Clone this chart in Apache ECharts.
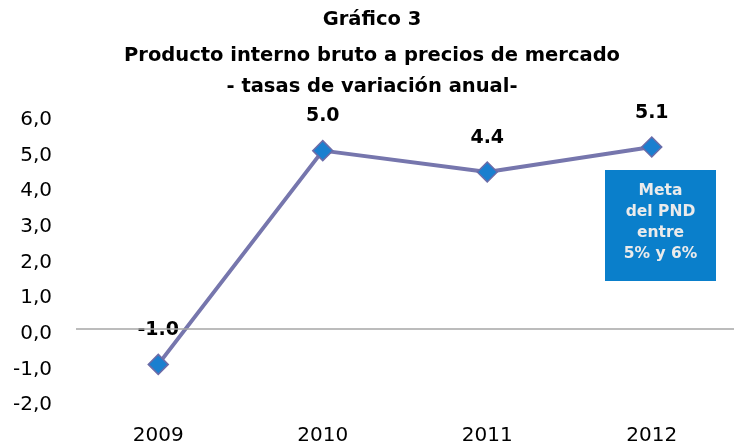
<!DOCTYPE html>
<html><head><meta charset="utf-8">
<script src="https://cdn.jsdelivr.net/npm/echarts@6/dist/echarts.min.js"></script>
<style>html,body{margin:0;padding:0;background:#fff}#c{width:734px;height:446px}</style>
</head><body><div id="c"></div>
<script>
const years = ['2009', '2010', '2011', '2012'];
const pibGrowth = [-1.0, 5.0, 4.4, 5.1];
const yTicks = [-2, -1, 0, 1, 2, 3, 4, 5, 6];
const titleLines = ['Gráfico 3', 'Producto interno bruto a precios de mercado', '- tasas de variación anual-'];
const boxLines = ['Meta', 'del PND', 'entre', '5% y 6%'];

const FONT = '"DejaVu Sans", sans-serif';
const titleY = [20, 56, 87];
const chart = echarts.init(document.getElementById('c'), null, {renderer: 'canvas'});
chart.setOption({
  animation: false,
  grid: {left: 76, right: -6, top: 115, bottom: 44, containLabel: false},
  xAxis: {
    type: 'category', data: years, boundaryGap: true,
    axisLine: {show: false}, axisTick: {show: false},
    axisLabel: {fontFamily: FONT, fontSize: 20, color: '#000', margin: 26}
  },
  yAxis: {
    type: 'value', min: yTicks[0], max: yTicks[yTicks.length - 1], interval: 1,
    axisLine: {show: false}, axisTick: {show: false}, splitLine: {show: false},
    axisLabel: {fontFamily: FONT, fontSize: 20, color: '#000', margin: 24,
      formatter: v => '{s|' + v.toFixed(1).replace('.', ',') + '}',
      rich: {s: {fontFamily: FONT, fontSize: 20, color: '#000', padding: [10, 0, 0, 0]}}}
  },
  series: [{
    type: 'line', data: pibGrowth,
    lineStyle: {color: '#7676ad', width: 4},
    symbol: 'diamond', symbolSize: 20,
    itemStyle: {color: '#1a7fcf', borderColor: '#6c6ca8', borderWidth: 1.5},
    label: {show: true, position: 'top', distance: 14, fontFamily: FONT, fontWeight: 'bold',
      fontSize: 19, color: '#000', formatter: p => p.value.toFixed(1)},
    markLine: {
      silent: true, symbol: 'none', label: {show: false},
      lineStyle: {color: '#a6a6a6', width: 1.5, type: 'solid'},
      data: [{yAxis: 0}]
    },
    z: 3
  }],
  graphic: titleLines.map((t, i) => ({
    type: 'text', x: 372, y: titleY[i],
    style: {text: t, align: 'center', verticalAlign: 'middle', fontFamily: FONT,
      fontWeight: 'bold', fontSize: 19.5, fill: '#000'}
  })).concat([{
    type: 'group', left: 605, top: 170,
    children: [
      {type: 'rect', shape: {x: 0, y: 0, width: 111, height: 111}, style: {fill: '#0a7fcb'}},
      {type: 'text', x: 55.5, y: 10, style: {text: boxLines.join('\n'), align: 'center',
        fontFamily: FONT, fontWeight: 'bold', fontSize: 15.5, lineHeight: 21, fill: '#ebebeb'}}
    ]
  }])
});
</script></body></html>
